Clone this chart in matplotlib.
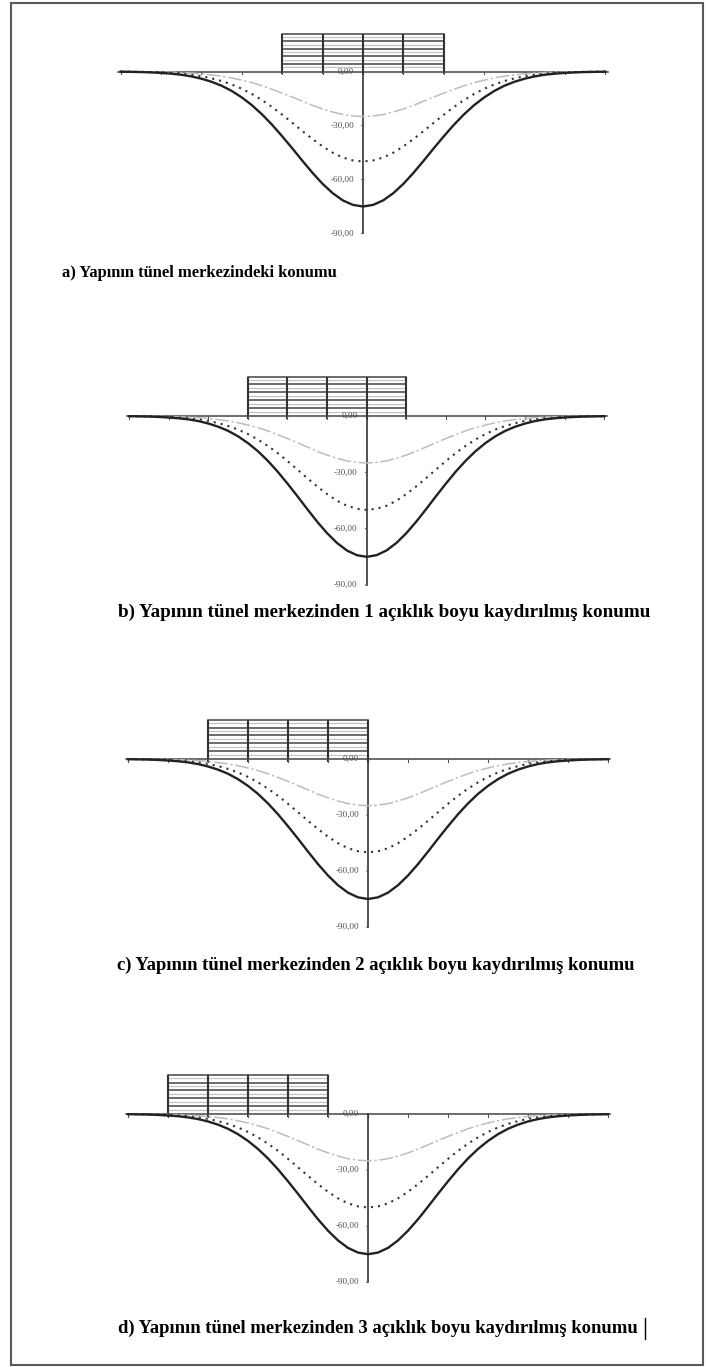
import matplotlib

matplotlib.use("Agg")
import matplotlib.pyplot as plt
import numpy as np
from matplotlib.lines import Line2D
from matplotlib.patches import Rectangle

W, H = 706, 1367

# settlement profile sampled every quarter span, x = -6 ... 6 (spans)
X_SPAN = np.arange(-6.0, 6.001, 0.25)
SETTLE_FINAL = [
    -0.1, -0.2, -0.3, -0.5, -0.8, -1.2, -1.8, -2.7, -4.0, -5.7, -7.9, -10.8,
    -14.4, -18.7, -23.8, -29.6, -36.0, -42.7, -49.6, -56.3, -62.4, -67.6, -71.6, -74.1,
    -75.0,
    -74.1, -71.6, -67.6, -62.4, -56.3, -49.6, -42.7, -36.0, -29.6, -23.8, -18.7, -14.4,
    -10.8, -7.9, -5.7, -4.0, -2.7, -1.8, -1.2, -0.8, -0.5, -0.3, -0.2, -0.1,
]
SETTLE_MID = [
    -0.1, -0.1, -0.2, -0.3, -0.5, -0.8, -1.2, -1.8, -2.6, -3.8, -5.3, -7.2,
    -9.6, -12.5, -15.9, -19.7, -24.0, -28.5, -33.1, -37.5, -41.6, -45.1, -47.8, -49.4,
    -50.0,
    -49.4, -47.8, -45.1, -41.6, -37.5, -33.1, -28.5, -24.0, -19.7, -15.9, -12.5, -9.6,
    -7.2, -5.3, -3.8, -2.6, -1.8, -1.2, -0.8, -0.5, -0.3, -0.2, -0.1, -0.1,
]
SETTLE_EARLY = [
    0.0, -0.1, -0.1, -0.2, -0.3, -0.4, -0.6, -0.9, -1.3, -1.9, -2.6, -3.6,
    -4.8, -6.2, -7.9, -9.9, -12.0, -14.2, -16.5, -18.8, -20.8, -22.5, -23.9, -24.7,
    -25.0,
    -24.7, -23.9, -22.5, -20.8, -18.8, -16.5, -14.2, -12.0, -9.9, -7.9, -6.2, -4.8,
    -3.6, -2.6, -1.9, -1.3, -0.9, -0.6, -0.4, -0.3, -0.2, -0.1, -0.1, 0.0,
]

Y_TICKS = [0, -30, -60, -90]
Y_TICK_LABELS = ["0,00", "-30,00", "-60,00", "-90,00"]

BUILDING_LEFT = [-2, -3, -4, -5]   # left wall of the building, in spans
BUILDING_SPANS = 4
STOREYS = 5
BUILDING_HEIGHT = 21.0

CAPTIONS = [
    "a) Yapının tünel merkezindeki konumu",
    "b) Yapının tünel merkezinden 1 açıklık boyu kaydırılmış konumu",
    "c) Yapının tünel merkezinden 2 açıklık boyu kaydırılmış konumu",
    "d) Yapının tünel merkezinden 3 açıklık boyu kaydırılmış konumu",
]

# panel placement in pixels: centre x, span width, zero-line y, px per unit
PANELS = [
    (363.0, 40.4, 71.5, 1.80),
    (366.7, 39.6, 416.0, 1.878),
    (368.0, 40.0, 759.0, 1.867),
    (368.0, 40.0, 1114.0, 1.87),
]
# caption left x, centre y, right x
CAPTION_POS = [(62, 273, 338), (118, 612, 655), (117, 965, 637), (118, 1328, 641)]

fig = plt.figure(figsize=(W / 100, H / 100), dpi=100)
fig.patch.set_facecolor("white")

# outer frame
fig.add_artist(Rectangle((11 / W, 1 - 1365 / H), (703 - 11) / W, (1365 - 3) / H,
                         transform=fig.transFigure, fill=False,
                         edgecolor="#5a5a5a", linewidth=1.5))

serif = "Liberation Serif"

for i, (cx, span, y0, k) in enumerate(PANELS):
    left = cx - 6 * span
    bottom = y0 + 90 * k
    top = y0 - BUILDING_HEIGHT * k
    ax = fig.add_axes([left / W, 1 - bottom / H, 12 * span / W, (bottom - top) / H])
    ax.set_xlim(-6, 6)
    ax.set_ylim(-90, BUILDING_HEIGHT)
    ax.axis("off")

    # building: walls and floor slabs (dark slab line with a faint one under it)
    bl = BUILDING_LEFT[i]
    br = bl + BUILDING_SPANS
    storey_h = BUILDING_HEIGHT / STOREYS
    for s in range(1, STOREYS + 1):
        yy = s * storey_h
        ax.plot([bl, br], [yy, yy], color="#444444", lw=1.1, clip_on=False)
        ax.plot([bl, br], [yy - 0.45 * storey_h, yy - 0.45 * storey_h],
                color="#c4c4c4", lw=0.9, clip_on=False)
    for wx in range(bl, br + 1):
        ax.plot([wx, wx], [-1.5, BUILDING_HEIGHT], color="#333333", lw=1.5,
                clip_on=False, solid_capstyle="butt")

    # ground line with span ticks
    ax.plot([-6.06, 6.06], [0, 0], color="#444444", lw=1.1, clip_on=False)
    for tx in range(-6, 7):
        ax.plot([tx, tx], [0, -1.6], color="#555555", lw=0.8, clip_on=False)

    # vertical axis
    ax.plot([0, 0], [0, -90], color="#333333", lw=1.2, clip_on=False)
    for yt, lab in zip(Y_TICKS, Y_TICK_LABELS):
        if yt != 0:
            ax.annotate("", xy=(0, yt), xytext=(-3, 0), textcoords="offset points",
                        arrowprops=dict(arrowstyle="-", color="#555555", lw=0.8))
        ax.annotate(lab, xy=(0, yt), xytext=(-6.5, 0), textcoords="offset points",
                    ha="right", va="center", fontsize=6.6, family=serif,
                    color="#505050")

    # settlement troughs
    ax.plot(X_SPAN, SETTLE_EARLY, color="#bdbdbd", lw=1.1,
            dashes=(9, 1.8, 1.5, 1.8), clip_on=False)
    ax.plot(X_SPAN, SETTLE_MID, color="#333333", lw=1.5,
            linestyle=(0, (1, 2.4)), clip_on=False)
    ax.plot(X_SPAN, SETTLE_FINAL, color="#222222", lw=1.7, clip_on=False)

# captions, sized to their measured widths
renderer = fig.canvas.get_renderer()
for cap, (cxl, cy, cxr) in zip(CAPTIONS, CAPTION_POS):
    t = fig.text(cxl / W, 1 - cy / H, cap, ha="left", va="center",
                 fontsize=10, family=serif, weight="bold", color="black")
    bb = t.get_window_extent(renderer)
    t.set_fontsize(10 * (cxr - cxl) / bb.width)

# text cursor after the last caption
fig.add_artist(Line2D([644.5 / W, 644.5 / W], [1 - 1318 / H, 1 - 1339 / H],
                      transform=fig.transFigure, color="black", lw=1.0))

fig.savefig("out.png", dpi=100, facecolor="white")
